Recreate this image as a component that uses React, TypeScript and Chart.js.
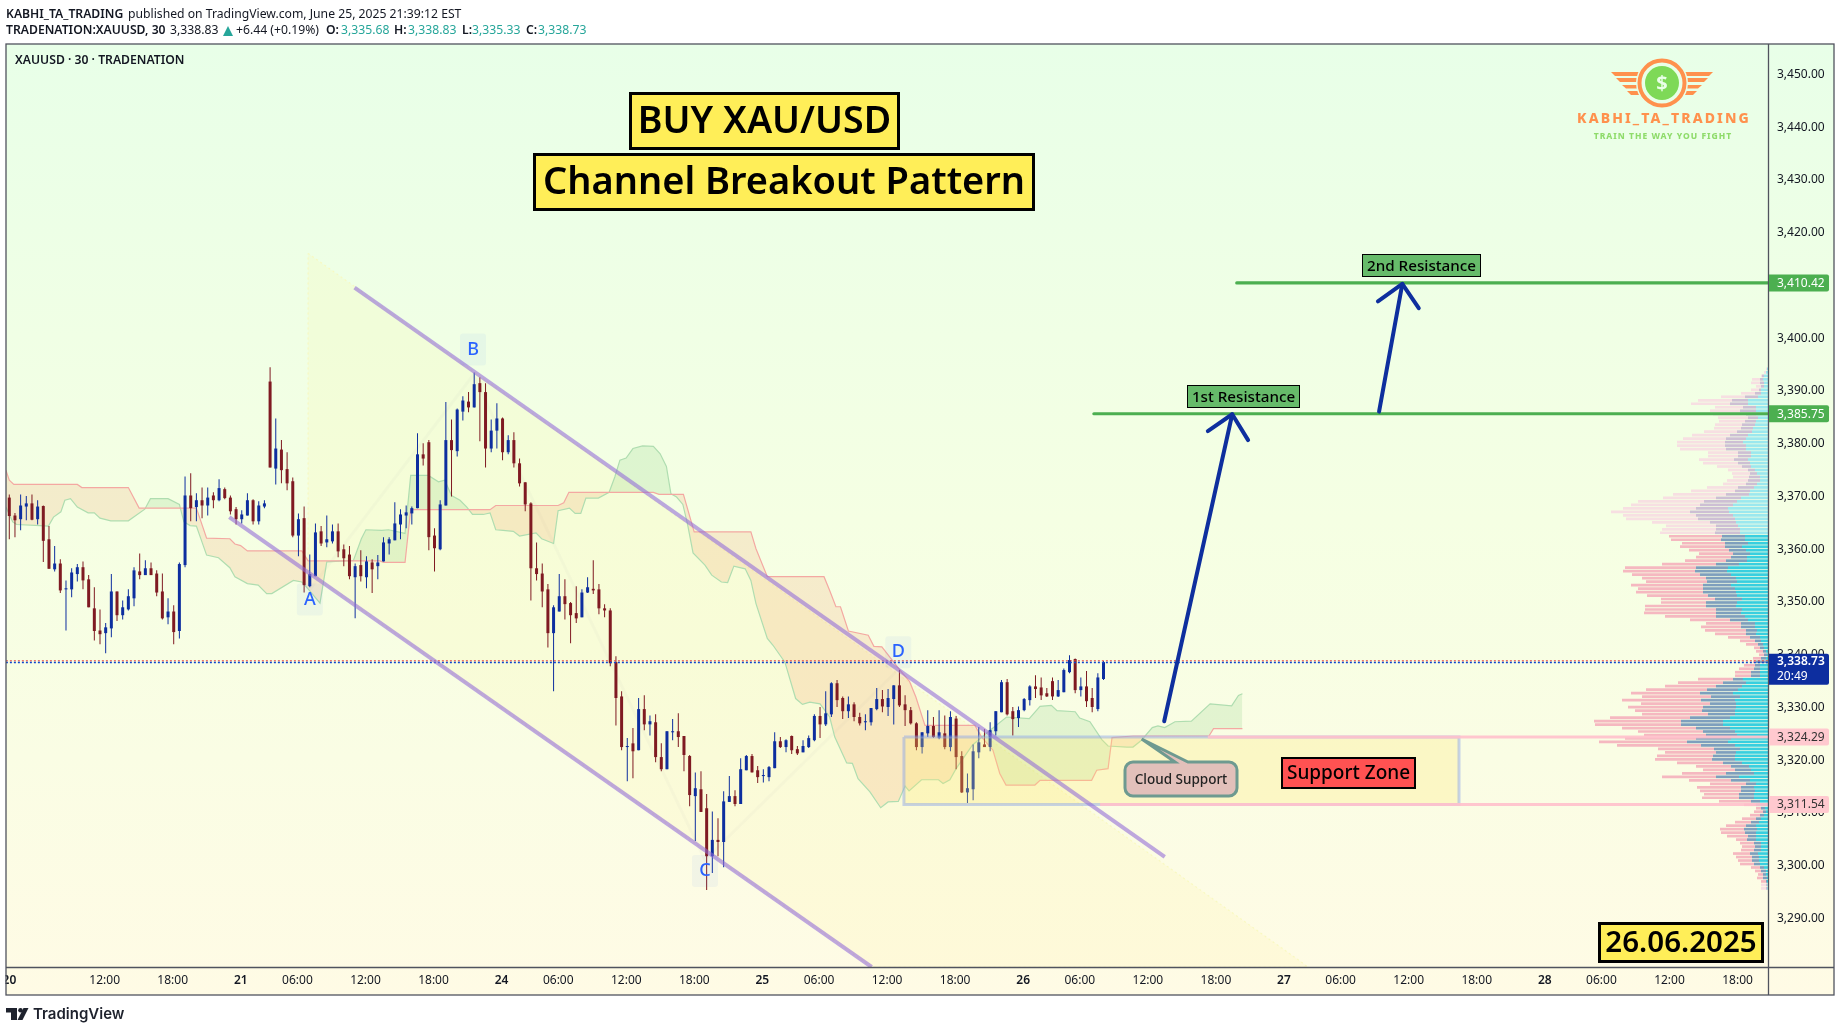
import React, { useEffect, useRef } from "react";
import { Chart, registerables } from "chart.js";

Chart.register(...registerables);

// ---- candles (30 min bars) ----
const opens = [
3369.6,3366.2,3365.5,3367.9,3368.5,3365.5,3368.0,3361.7,3356.0,3357.1,
3352.2,3352.2,3355.1,3356.4,3354.1,3348.6,3344.4,3343.9,3344.8,3351.8,
3347.3,3348.4,3350.5,3355.6,3354.9,3356.2,3355.2,3351.8,3346.9,3348.0,
3344.3,3356.8,3370.0,3367.8,3369.1,3368.1,3370.0,3369.1,3371.2,3369.6,
3367.4,3365.5,3366.2,3369.1,3365.1,3367.9,3391.6,3375.1,3378.7,3375.0,
3372.7,3362.4,3365.7,3352.8,3354.7,3363.2,3361.1,3361.3,3363.2,3359.8,
3358.8,3354.5,3356.8,3354.5,3357.3,3356.6,3357.5,3360.9,3361.5,3364.5,
3366.2,3366.6,3367.6,3377.8,3380.1,3362.4,3359.8,3368.1,3380.5,3378.4,
3385.9,3387.8,3386.7,3391.3,3389.6,3378.9,3382.3,3384.6,3378.2,3380.5,
3376.1,3372.5,3368.5,3356.2,3355.2,3352.2,3343.9,3348.0,3350.9,3349.6,
3347.7,3346.9,3351.6,3352.3,3352.2,3348.6,3348.2,3338.4,3331.9,3322.3,
3323.0,3321.7,3329.5,3326.6,3327.0,3320.4,3318.1,3325.1,3325.3,3324.4,
3320.6,3313.0,3314.3,3310.7,3301.6,3304.7,3304.3,3311.9,3313.0,3311.5,
3317.9,3320.6,3317.9,3316.8,3316.6,3318.3,3323.4,3322.3,3324.4,3321.9,
3321.3,3322.3,3323.6,3328.2,3326.6,3328.5,3334.4,3331.6,3329.1,3330.4,
3328.0,3327.0,3327.0,3329.5,3331.4,3329.9,3331.4,3334.0,3330.4,3329.3,
3326.8,3322.3,3324.9,3326.3,3324.0,3324.9,3322.3,3327.7,3320.6,3313.7,
3314.3,3321.3,3322.8,3322.3,3325.3,3328.9,3334.6,3329.1,3327.8,3329.3,
3331.2,3333.8,3333.6,3332.5,3334.8,3331.9,3332.7,3336.5,3339.0,3333.1,
3333.8,3331.6,3329.5,3335.2];
const highs = [
3370.2,3366.7,3370.2,3369.9,3370.2,3369.1,3368.1,3364.2,3360.4,3357.9,
3353.9,3356.2,3357.0,3357.5,3354.9,3352.6,3348.4,3345.8,3355.1,3351.8,
3350.1,3352.2,3356.4,3359.0,3357.7,3357.3,3355.8,3355.2,3350.5,3349.2,
3357.3,3373.6,3374.2,3370.4,3371.5,3371.5,3370.6,3373.1,3371.5,3370.0,
3367.8,3367.2,3370.4,3369.3,3368.9,3369.1,3394.3,3384.6,3380.5,3378.2,
3373.4,3366.6,3367.9,3358.8,3364.7,3364.2,3366.2,3364.5,3364.7,3360.7,
3360.4,3357.1,3359.6,3358.5,3357.9,3358.7,3362.1,3362.1,3368.7,3367.4,
3368.1,3367.9,3381.8,3379.9,3380.5,3363.8,3369.1,3387.7,3384.4,3386.5,
3388.8,3389.6,3393.3,3392.4,3391.3,3384.4,3387.5,3384.8,3381.4,3382.0,
3377.0,3372.5,3368.7,3361.1,3357.1,3353.2,3349.2,3355.1,3354.1,3349.8,
3352.8,3352.2,3354.5,3357.7,3353.2,3349.4,3348.6,3339.5,3332.9,3324.0,
3325.9,3331.6,3332.1,3328.3,3328.5,3323.0,3325.3,3327.6,3328.7,3324.4,
3320.8,3317.5,3317.7,3313.4,3310.1,3308.8,3313.9,3316.8,3314.1,3320.2,
3320.8,3321.0,3318.7,3318.1,3318.7,3325.1,3324.2,3323.8,3324.5,3322.5,
3323.6,3324.5,3328.5,3329.9,3332.9,3334.6,3335.0,3331.9,3331.9,3330.8,
3328.8,3328.5,3329.7,3333.5,3333.1,3333.3,3334.0,3336.9,3332.1,3329.9,
3327.0,3325.1,3329.3,3328.0,3329.3,3328.3,3329.1,3328.2,3321.5,3317.3,
3322.8,3326.1,3325.7,3327.0,3329.1,3335.0,3335.2,3329.9,3330.0,3331.6,
3334.0,3335.9,3335.5,3333.5,3335.5,3335.0,3337.2,3339.7,3339.1,3335.5,
3336.7,3333.5,3336.3,3338.6];
const lows = [
3361.7,3362.1,3363.4,3365.3,3365.3,3364.5,3357.4,3356.1,3355.6,3351.5,
3344.4,3350.7,3353.7,3352.2,3348.8,3342.5,3341.8,3340.1,3343.1,3346.2,
3346.5,3348.2,3349.0,3354.1,3354.9,3354.9,3350.9,3346.5,3345.6,3341.8,
3342.9,3356.4,3365.1,3365.1,3365.7,3366.2,3367.6,3368.9,3369.3,3366.4,
3364.5,3364.7,3366.2,3364.5,3364.5,3367.6,3375.3,3372.1,3372.3,3371.0,
3362.1,3358.5,3351.6,3352.6,3354.7,3360.4,3360.2,3360.9,3358.3,3356.6,
3354.1,3346.7,3353.7,3352.4,3351.5,3354.1,3357.5,3358.8,3361.5,3361.7,
3363.8,3364.5,3367.6,3375.7,3359.6,3355.6,3359.6,3368.1,3369.8,3377.4,
3384.2,3385.8,3386.7,3380.3,3375.3,3378.2,3378.9,3376.7,3377.8,3375.3,
3371.7,3367.0,3350.1,3353.9,3348.8,3341.2,3332.9,3348.0,3346.5,3342.0,
3345.8,3346.9,3351.5,3351.3,3347.5,3346.9,3337.6,3326.4,3321.7,3315.8,
3316.4,3321.7,3325.5,3324.5,3319.4,3317.7,3318.1,3323.6,3322.3,3317.7,
3311.1,3304.5,3310.0,3295.2,3298.4,3301.6,3299.5,3311.9,3311.1,3311.5,
3317.9,3317.5,3315.5,3315.6,3315.8,3318.3,3322.1,3321.3,3321.0,3320.8,
3321.3,3322.1,3323.4,3324.0,3326.3,3328.0,3329.9,3327.6,3327.8,3327.2,
3326.4,3325.5,3326.4,3329.3,3328.9,3328.2,3326.6,3329.9,3326.3,3326.6,
3321.7,3321.1,3324.2,3324.0,3323.8,3321.9,3321.5,3318.1,3313.6,3311.7,
3312.2,3320.2,3322.3,3321.5,3324.5,3328.9,3328.3,3324.5,3326.1,3329.1,
3330.2,3331.6,3331.2,3331.8,3331.2,3331.8,3332.7,3336.3,3332.5,3331.9,
3329.9,3328.9,3329.1,3335.0];
const closes = [
3366.1,3365.3,3368.1,3368.5,3365.4,3367.9,3361.4,3356.1,3357.1,3352.0,
3352.4,3355.4,3356.4,3353.9,3348.8,3344.3,3343.7,3345.0,3351.8,3347.3,
3348.8,3350.9,3355.8,3354.9,3356.2,3354.9,3351.6,3346.7,3348.0,3344.1,
3357.0,3370.0,3367.6,3369.1,3368.1,3369.6,3369.1,3371.4,3369.5,3367.0,
3365.5,3366.4,3369.1,3365.1,3368.1,3368.5,3375.3,3378.9,3374.8,3372.3,
3362.4,3365.5,3353.0,3355.1,3363.0,3360.9,3361.7,3363.2,3359.4,3358.1,
3354.7,3356.6,3354.7,3357.5,3356.0,3357.3,3361.1,3361.7,3364.7,3366.4,
3366.8,3367.6,3377.8,3377.0,3362.1,3360.0,3368.3,3380.5,3378.6,3386.3,
3388.0,3386.7,3391.1,3389.6,3378.9,3382.3,3384.6,3378.2,3380.5,3376.1,
3372.3,3368.3,3356.2,3355.1,3351.8,3343.9,3348.8,3350.9,3349.4,3347.3,
3346.7,3351.6,3352.6,3352.0,3348.6,3348.2,3338.2,3331.6,3322.3,3322.5,
3321.5,3329.5,3326.6,3327.2,3320.4,3318.1,3325.3,3325.3,3324.2,3320.8,
3313.2,3314.5,3310.0,3301.6,3304.7,3304.3,3312.0,3313.0,3311.5,3318.1,
3320.6,3317.5,3316.6,3317.0,3318.5,3323.4,3322.3,3323.6,3321.7,3321.1,
3322.5,3324.0,3328.2,3326.6,3328.7,3334.4,3331.2,3329.1,3330.4,3328.0,
3326.8,3327.2,3329.7,3331.4,3330.0,3331.6,3334.0,3330.2,3329.3,3326.8,
3322.3,3325.1,3326.3,3324.2,3325.1,3322.3,3328.0,3320.4,3313.7,3314.5,
3321.5,3323.2,3322.3,3325.5,3329.1,3334.6,3328.5,3327.6,3329.3,3331.4,
3333.8,3333.3,3332.1,3331.9,3331.9,3333.1,3336.9,3338.8,3333.1,3333.8,
3331.0,3329.9,3335.5,3338.4];

// ---- Ichimoku cloud vertices [bar, price] ----
const spanA: number[][] = [
[-0.6,3367.8],[0.6,3365],[1.3,3364.5],[5.4,3364.3],[6.9,3364.2],[7.8,3365.9],[9.1,3366.9],[9.8,3369.1],[10.8,3369.4],[12,3367.8],[13.9,3366.7],[15,3366.7],[16,3365.7],[17.9,3365.2],[21,3365.2],[23.9,3367.4],[24.9,3369.4],[28,3369.4],[30,3368.3],[30.8,3365],[31.9,3364.3],[33,3364.2],[34.8,3358.7],[36.9,3358.2],[38.9,3356.3],[39.8,3354.6],[42,3353.3],[43.9,3353],[45.4,3351.4],[46.3,3351.4],[50.1,3353.9],[51.6,3353.6],[52.7,3352.3],[54.8,3349.6],[56,3357.4],[60.7,3357.7],[62.1,3361.8],[62.9,3363.5],[65.7,3363.4],[66.9,3363.5],[69.8,3362.8],[70.8,3373.8],[73.9,3373.8],[75.7,3372.6],[76.8,3372.9],[78,3370],[79.5,3369.1],[80.7,3367.8],[81.7,3366.4],[83.6,3366.4],[84.8,3366.7],[85.8,3363.5],[87.1,3363.4],[88.9,3363.2],[90,3362.3],[92.9,3362.9],[93.9,3361.8],[96,3360.9],[96.8,3367.1],[98.8,3367.6],[99.8,3366.6],[100.8,3366.6],[101.7,3369.5],[103.9,3369.5],[105.8,3370.6],[106.8,3373.5],[107.7,3376.7],[108.8,3377.1],[110,3378.9],[111.7,3379.4],[113.6,3379.3],[114.8,3377.9],[115.9,3375.5],[116.7,3370.3],[117.7,3369.7],[118.8,3368.3],[119.6,3364.7],[120.6,3359.1],[122.7,3356.8],[123.9,3354.9],[125.6,3353.6],[126.7,3353.5],[127.8,3356.6],[129.8,3356.1],[130.8,3353.9],[131.7,3349.5],[133.7,3342.9],[134.7,3341.6],[136.8,3338.4],[138.7,3331.5],[139.9,3330.4],[141.2,3330.8],[143,3330.5],[144.7,3328],[145.6,3324.2],[147.7,3319.3],[148.7,3319.2],[149.7,3316.3],[151.8,3313.8],[153.7,3310.8],[155,3311.9],[156.8,3312],[158,3314.9],[158.7,3314],[160.9,3316.1],[163.9,3316.1],[164.7,3315.4],[165.9,3316.1],[167,3318.2],[169.9,3322.7],[173,3325.5],[175.9,3328],[179.9,3327.7],[181.8,3330],[183.8,3330.2],[184.8,3329.2],[188,3329],[188.8,3327.8],[190.6,3327.1],[192.7,3323.7],[193.8,3322.5],[197.1,3322.3],[198.2,3322.3],[199.7,3323.6],[201.6,3326],[202.6,3326.3],[203.8,3326],[205.6,3327.1],[208.5,3327.2],[211.8,3330.5],[215.6,3330.1],[216.8,3332.1],[217.5,3332.4]];
const spanB: number[][] = [
[-0.6,3374.8],[0,3372.9],[0.8,3372.1],[12,3372.1],[12.8,3371.5],[21,3371.5],[22.9,3367.6],[33,3367.6],[34.8,3361.9],[38.9,3361.8],[39.8,3360.8],[40.8,3360.5],[42,3359.5],[51.6,3359.5],[52.7,3357.6],[65.4,3357.6],[66,3357.3],[69.8,3357.3],[70.8,3367.3],[84.8,3367.3],[85.8,3368.1],[96.8,3368.1],[97.8,3368.6],[98.7,3370.6],[113.6,3370.6],[114.6,3370.2],[118.9,3370.2],[120.8,3363.1],[130.8,3363.1],[131.7,3359.9],[133.7,3354.6],[143.7,3354.6],[144.7,3352],[145.8,3348.9],[146.6,3348.9],[148,3344.3],[151.5,3343.5],[152.5,3341.4],[153.9,3341.3],[157.1,3336.9],[158.8,3334.7],[159.9,3331.8],[161.5,3326.4],[170.3,3326.4],[171.5,3324.2],[173.5,3321.7],[174.7,3317.3],[175.8,3315.1],[180.9,3315.1],[181.8,3316],[190.9,3316],[191.8,3317.9],[193.8,3318.2],[194.5,3324.1],[198.2,3324.4],[211.6,3324.4],[212.4,3325.8],[217.5,3325.8]];

// ---- volume profile rows, top to bottom ----
const vpTopPrice = 3394.0;
const vpBottomPrice = 3295.5;
const vpValueAreaTop = 3362.3;
const vpValueAreaBottom = 3296.8;
const vpUp = [1,2,4,5,4,4,7,7,10,20,20,12,12,12,10,12,13,15,16,20,22,25,22,22,17,17,20,18,17,13,11,8,8,11,14,18,19,27,31,35,40,39,35,33,32,30,28,28,23,23,20,26,22,18,21,21,29,40,41,37,32,31,37,33,32,31,26,31,32,26,27,23,20,13,13,11,12,8,7,5,4,2,1,2,2,8,8,8,8,25,22,26,30,35,28,33,32,32,33,33,38,45,45,38,33,31,37,40,33,28,32,33,33,26,19,17,14,29,18,12,14,13,14,14,8,4,3,2,4,7,9,12,11,12,12,12,7,7,7,10,9,9,8,4,2,2,1,1,1,1];
const vpMid = [1,2,6,8,8,7,9,13,23,36,38,25,28,22,20,23,26,27,31,38,42,43,43,42,30,30,34,30,26,20,18,19,20,22,30,33,42,52,64,68,72,78,72,70,58,52,52,53,46,47,43,43,39,35,37,42,52,72,73,68,62,61,65,65,65,60,53,62,62,52,52,52,38,27,27,22,22,18,13,10,8,5,4,7,12,13,14,17,17,35,45,52,61,68,57,67,58,65,66,60,78,87,87,72,65,62,72,81,67,54,52,55,56,45,37,33,42,52,37,22,27,27,29,29,17,12,7,5,8,12,17,22,24,23,20,21,14,13,14,18,16,16,14,8,7,5,5,2,2,2];
const vpPink = [2,4,7,16,17,12,17,27,47,70,77,53,58,55,50,49,53,54,64,76,85,91,91,88,60,60,69,65,51,40,36,35,41,45,61,77,95,105,130,137,145,157,145,142,116,102,106,108,99,97,86,88,79,69,72,83,106,143,145,136,126,122,137,130,132,121,107,107,123,123,124,103,78,62,67,63,53,40,28,22,14,12,9,15,15,24,29,33,33,70,90,103,122,137,126,146,127,140,133,126,158,174,173,146,130,124,143,169,151,110,103,111,113,91,72,65,86,106,79,58,71,68,64,66,49,24,12,14,18,26,33,42,48,47,41,32,28,26,27,35,32,30,28,17,13,10,11,7,7,7];

// ---- axes ----
const xTickPositions = [0.2,17,29,41,51,63,75,87,97,109,121,133,143,155,167,179,189,201,213,225,235,247,259,271,281,293,305];
const xTickLabels = ["20","12:00","18:00","21","06:00","12:00","18:00","24","06:00","12:00","18:00","25","06:00","12:00","18:00","26","06:00","12:00","18:00","27","06:00","12:00","18:00","28","06:00","12:00","18:00"];
const xDayLabels = ["20","21","24","25","26","27","28"];
const yTickValues = [3450,3440,3430,3420,3410,3400,3390,3380,3370,3360,3350,3340,3330,3320,3310,3300,3290];

// ---- drawing tools, in [bar, price] ----
const channelUpper = [[60.9,3409.4],[203.8,3301.5]];
const channelLower = [[38.8,3365.9],[152.1,3280.6]];
const channelArea = [[52.7,3415.9],[228.2,3281.3],[229,3280.6],[152.1,3280.6],[52.7,3355.4],[52.7,3415.9]];
const abcdPath = [[52.9,3352],[81.8,3392.8],[122.7,3300.9],[156.7,3336.9]];
const supportBox = [[157.8,3324.2],[255.7,3324.2],[255.7,3311.4],[157.8,3311.4],[157.8,3324.2]];
const arrow1Shaft = [[203.7,3327.2],[215.7,3385.4]];
const arrow1Head = [[211.4,3382.2],[215.7,3385.4],[218.5,3380.5]];
const arrow2Shaft = [[241.6,3385.9],[245.7,3410.1]];
const arrow2Head = [[241.4,3406.8],[245.7,3410.1],[248.6,3405.5]];
const resistance1 = [[191.3,3385.5],[310.2,3385.5]];
const resistance2 = [[216.5,3410.3],[310.2,3410.3]];
const supportTop = [[211.4,3324.2],[310.2,3324.2]];
const supportBottom = [[192.4,3311.4],[310.2,3311.4]];
const lastPriceRed = [[-0.6,3338.65],[310.2,3338.65]];
const lastPriceBlue = [[-0.6,3338.33],[310.2,3338.33]];
const patternLabels = ["A","B","C","D"];
const patternLabelBars = [53,81.8,122.7,156.8];
const patternLabelPrices = [3350.3,3397.7,3298.8,3340.3];
const badgeTexts = ["3,410.42","3,385.75","3,324.29","3,311.54"];
const badgePrices = [3410.3,3385.5,3324.2,3311.4];
const badgeColors = ["#4CAF50","#4CAF50","#FFC9CF","#FFC9CF"];
const badgeTextColors = ["#ffffff","#ffffff","#333333","#333333"];

const FONT = '"Noto Sans", sans-serif';
const RED = "#7F1A22";
const BLUE = "#0D2E9F";

const pts = (a: number[][]) => a.map(([x, y]) => ({ x, y }));
const line = (data: number[][], extra: any) => ({
  type: "line",
  data: pts(data),
  pointRadius: 0,
  tension: 0,
  fill: false,
  ...extra,
});

function labelBox(ctx: any, x: number, y: number, w: number, h: number, fill: string, bw: number, text: string, font: string) {
  ctx.fillStyle = "#000";
  ctx.fillRect(x, y, w, h);
  ctx.fillStyle = fill;
  ctx.fillRect(x + bw, y + bw, w - 2 * bw, h - 2 * bw);
  ctx.fillStyle = "#000";
  ctx.font = font;
  ctx.textAlign = "center";
  ctx.textBaseline = "middle";
  ctx.fillText(text, x + w / 2, y + h / 2 + 1);
}

function headerPieces(ctx: any) {
  ctx.textBaseline = "middle";
  ctx.textAlign = "left";
  const dark = "#131722";
  const teal = "#26A69A";
  const put = (t: string, x: number, y: number, bold: boolean, c: string) => {
    ctx.font = `${bold ? "600" : "400"} 12.2px ${FONT}`;
    ctx.fillStyle = c;
    ctx.fillText(t, x, y);
  };
  put("KABHI_TA_TRADING", 6, 14.5, true, dark);
  put("published on TradingView.com, June 25, 2025 21:39:12 EST", 128, 14.5, false, dark);
  put("TRADENATION:XAUUSD, 30", 6, 31, true, dark);
  put("3,338.83", 170, 31, false, dark);
  ctx.fillStyle = teal;
  ctx.beginPath();
  ctx.moveTo(228, 26);
  ctx.lineTo(233, 36);
  ctx.lineTo(223, 36);
  ctx.closePath();
  ctx.fill();
  put("+6.44 (+0.19%)", 236, 31, false, dark);
  put("O:", 326, 31, true, dark);
  put("3,335.68", 341, 31, false, teal);
  put("H:", 394, 31, true, dark);
  put("3,338.83", 408, 31, false, teal);
  put("L:", 462, 31, true, dark);
  put("3,335.33", 472, 31, false, teal);
  put("C:", 526, 31, true, dark);
  put("3,338.73", 538, 31, false, teal);
  put("XAUUSD · 30 · TRADENATION", 15, 61, true, dark);
}

function logo(ctx: any) {
  const cx = 1662;
  const cy = 83;
  const orange = "#FF914D";
  ctx.fillStyle = orange;
  const stripes = [[72, 76, 51, 20], [78, 82, 46, 20], [85, 88.5, 40, 20], [91, 95, 35, 20]];
  for (const [y1, y2, outer, inner] of stripes) {
    for (const s of [-1, 1]) {
      ctx.beginPath();
      ctx.moveTo(cx + s * outer, y1);
      ctx.lineTo(cx + s * inner, y1);
      ctx.lineTo(cx + s * inner, y2);
      ctx.lineTo(cx + s * (outer - 4), y2);
      ctx.closePath();
      ctx.fill();
    }
  }
  ctx.beginPath();
  ctx.arc(cx, cy, 26, 0, Math.PI * 2);
  ctx.fillStyle = "#E9FFE8";
  ctx.fill();
  ctx.beginPath();
  ctx.arc(cx, cy, 22.5, 0, Math.PI * 2);
  ctx.strokeStyle = orange;
  ctx.lineWidth = 4;
  ctx.stroke();
  ctx.beginPath();
  ctx.arc(cx, cy, 17, 0, Math.PI * 2);
  ctx.fillStyle = "#7ED957";
  ctx.fill();
  ctx.fillStyle = "#E9FFE8";
  ctx.font = `700 20px ${FONT}`;
  ctx.textAlign = "center";
  ctx.textBaseline = "middle";
  ctx.fillText("$", cx, cy + 1);
  ctx.fillStyle = orange;
  ctx.font = `800 14px ${FONT}`;
  (ctx as any).letterSpacing = "2.1px";
  ctx.fillText("KABHI_TA_TRADING", 1664, 119);
  ctx.fillStyle = "#8FDC6B";
  ctx.font = `800 8.5px ${FONT}`;
  (ctx as any).letterSpacing = "1px";
  ctx.fillText("TRAIN THE WAY YOU FIGHT", 1663, 137);
  (ctx as any).letterSpacing = "0px";
}

function cloudSupport(ctx: any) {
  const x = 1125, y = 762, w = 112, h = 34, r = 8;
  ctx.beginPath();
  ctx.moveTo(x + r, y);
  ctx.lineTo(1175, y);
  ctx.lineTo(1141.7, 739);
  ctx.lineTo(1188, y);
  ctx.lineTo(x + w - r, y);
  ctx.arcTo(x + w, y, x + w, y + r, r);
  ctx.lineTo(x + w, y + h - r);
  ctx.arcTo(x + w, y + h, x + w - r, y + h, r);
  ctx.lineTo(x + r, y + h);
  ctx.arcTo(x, y + h, x, y + h - r, r);
  ctx.lineTo(x, y + r);
  ctx.arcTo(x, y, x + r, y, r);
  ctx.closePath();
  ctx.fillStyle = "#E2C0BA";
  ctx.fill();
  ctx.strokeStyle = "#6E9A90";
  ctx.lineWidth = 3;
  ctx.stroke();
  ctx.fillStyle = "#222";
  ctx.font = `500 13.5px ${FONT}`;
  ctx.textAlign = "center";
  ctx.textBaseline = "middle";
  ctx.fillText("Cloud Support", x + w / 2, y + h / 2 + 1);
}

function tvLogo(ctx: any) {
  ctx.fillStyle = "#1E222D";
  ctx.fillRect(6, 1008, 11, 4.5);
  ctx.fillRect(11, 1008, 6, 12);
  ctx.beginPath();
  ctx.arc(20.5, 1010.3, 2.3, 0, Math.PI * 2);
  ctx.fill();
  ctx.beginPath();
  ctx.moveTo(23.5, 1008);
  ctx.lineTo(28.5, 1008);
  ctx.lineTo(22.5, 1020);
  ctx.lineTo(17.5, 1020);
  ctx.closePath();
  ctx.fill();
  ctx.font = `600 15px Inter, ${FONT}`;
  ctx.textAlign = "left";
  ctx.textBaseline = "middle";
  ctx.fillText("TradingView", 33, 1014);
}

const paint = {
  id: "paint",
  afterLayout(chart: any) {
    // pin the plot to the frame of the reference
    const L = 6, R = 1768, T = 44, B = 967;
    const { x, y, xv } = chart.scales;
    for (const s of [x, xv]) {
      s.left = L; s.right = R; s.width = R - L;
      s.top = B; s.bottom = 995; s.height = 28;
    }
    y.left = R; y.right = 1834; y.width = 66;
    y.top = T; y.bottom = B; y.height = B - T;
    chart.chartArea = { left: L, top: T, right: R, bottom: B, width: R - L, height: B - T };
    x.configure(); xv.configure(); y.configure();
  },
  beforeDraw(chart: any) {
    const ctx = chart.ctx;
    ctx.save();
    ctx.fillStyle = "#ffffff";
    ctx.fillRect(0, 0, chart.width, chart.height);
    const g = ctx.createLinearGradient(0, 44, 0, 995);
    g.addColorStop(0, "#E8FFE8");
    g.addColorStop(0.5, "#F5FFE3");
    g.addColorStop(1, "#FFFBE5");
    ctx.fillStyle = g;
    ctx.fillRect(6, 44, 1828, 951);
    ctx.restore();
  },
  afterDatasetsDraw(chart: any) {
    const ctx = chart.ctx;
    const xs = chart.scales.x;
    const ys = chart.scales.y;
    ctx.save();
    patternLabels.forEach((t, i) => {
      const px = xs.getPixelForValue(patternLabelBars[i]);
      const py = ys.getPixelForValue(patternLabelPrices[i]);
      ctx.fillStyle = "rgba(41,98,255,0.05)";
      ctx.beginPath();
      ctx.roundRect(px - 13, py - 16, 26, 32, 3);
      ctx.fill();
      ctx.fillStyle = "#2962FF";
      ctx.font = `500 18px ${FONT}`;
      ctx.textAlign = "center";
      ctx.textBaseline = "middle";
      ctx.fillText(t, px, py);
    });
    labelBox(ctx, 629, 92, 271, 58, "#FFEE58", 3, "BUY XAU/USD", `600 37.5px ${FONT}`);
    labelBox(ctx, 533, 153, 502, 58, "#FFEE58", 3, "Channel Breakout Pattern", `600 38px ${FONT}`);
    labelBox(ctx, 1187, 385, 113, 23, "#66BB6A", 1, "1st Resistance", `500 15.2px ${FONT}`);
    labelBox(ctx, 1362, 254, 119, 23, "#66BB6A", 1, "2nd Resistance", `500 15.2px ${FONT}`);
    labelBox(ctx, 1281, 757, 135, 32, "#FF5252", 2, "Support Zone", `500 19px ${FONT}`);
    labelBox(ctx, 1598, 922, 166, 41, "#FFEE58", 3, "26.06.2025", `600 29.5px ${FONT}`);
    cloudSupport(ctx);
    logo(ctx);
    ctx.restore();
  },
  afterDraw(chart: any) {
    const ctx = chart.ctx;
    const ys = chart.scales.y;
    ctx.save();
    ctx.fillStyle = "#ffffff";
    ctx.fillRect(0, 44, 5.5, 960);
    ctx.strokeStyle = "#50535E";
    ctx.lineWidth = 1.3;
    ctx.strokeRect(6, 44, 1828, 951);
    ctx.beginPath();
    ctx.moveTo(1768.5, 44);
    ctx.lineTo(1768.5, 995);
    ctx.moveTo(6, 967.5);
    ctx.lineTo(1834, 967.5);
    ctx.stroke();
    badgeTexts.forEach((t, i) => {
      const py = ys.getPixelForValue(badgePrices[i]);
      ctx.fillStyle = badgeColors[i];
      ctx.beginPath();
      ctx.roundRect(1769, py - 8.5, 60, 17, [0, 2, 2, 0]);
      ctx.fill();
      ctx.fillStyle = badgeTextColors[i];
      ctx.font = `400 12px ${FONT}`;
      ctx.textAlign = "left";
      ctx.textBaseline = "middle";
      ctx.fillText(t, 1777, py + 0.5);
    });
    const py = ys.getPixelForValue(3338.65);
    ctx.fillStyle = BLUE;
    ctx.beginPath();
    ctx.roundRect(1769, py - 7, 60, 31, [0, 2, 2, 0]);
    ctx.fill();
    ctx.fillStyle = "#fff";
    ctx.font = `600 12px ${FONT}`;
    ctx.textAlign = "left";
    ctx.textBaseline = "middle";
    ctx.fillText("3,338.73", 1777, py + 1);
    ctx.font = `400 12px ${FONT}`;
    ctx.fillText("20:49", 1777, py + 16);
    headerPieces(ctx);
    tvLogo(ctx);
    ctx.restore();
  },
};

export default function App() {
  const ref = useRef<HTMLCanvasElement | null>(null);
  useEffect(() => {
    document.body.style.margin = "0";
    document.body.style.overflow = "hidden";
    const bars = opens.map((_, i) => i);
    const vpStep = (vpTopPrice - vpBottomPrice) / (vpUp.length - 1);
    const vpPrices = vpUp.map((_, r) => vpTopPrice - r * vpStep);
    const inVA = (r: number) => vpPrices[r] <= vpValueAreaTop && vpPrices[r] >= vpValueAreaBottom;
    const vp = (from: number[] | null, to: number[], strong: string, light: string) => ({
      type: "bar",
      indexAxis: "y",
      xAxisID: "xv",
      yAxisID: "y",
      grouped: false,
      barThickness: 2.7,
      inflateAmount: 0,
      borderWidth: 0,
      order: 35,
      data: to.map((v, r) => ({ y: vpPrices[r], x: [from ? from[r] : 0, v] })),
      backgroundColor: to.map((_, r) => (inVA(r) ? strong : light)),
    });
    const candleColors = bars.map((i) => (closes[i] >= opens[i] ? BLUE : RED));
    const chart = new Chart(ref.current as any, {
      type: "bar",
      plugins: [paint as any],
      data: {
        datasets: [
          line(channelArea, { fill: "shape", backgroundColor: "rgba(255,238,130,0.12)", borderColor: "rgba(248,248,190,0.9)", borderWidth: 1.2, borderDash: [2, 3], order: 60 }),
          line(abcdPath, { borderColor: "rgba(190,190,190,0.07)", borderWidth: 3, order: 55 }),
          line(spanA, { borderColor: "#AFDDB0", borderWidth: 1.2, fill: { target: "+1", above: "rgba(76,175,80,0.13)", below: "rgba(244,130,70,0.15)" }, order: 50 }),
          line(spanB, { borderColor: "#F4A8A2", borderWidth: 1.2, order: 49 }),
          vp(vpPink.map((_, r) => vpMid[r]), vpPink, "#F5B8C0", "#F7DFE2"),
          vp(vpUp, vpMid, "#7E9FBD", "#CDBFD4"),
          vp(null, vpUp, "#38CFDF", "#9BE8EE"),
          {
            type: "bar", grouped: false, barThickness: 1, inflateAmount: 0, borderWidth: 0, order: 30,
            data: bars.map((i) => ({ x: i, y: [lows[i], highs[i]] })),
            backgroundColor: candleColors,
          },
          {
            type: "bar", grouped: false, barThickness: 3, inflateAmount: 0, borderWidth: 0, minBarLength: 1, order: 29,
            data: bars.map((i) => ({ x: i, y: [opens[i], closes[i]] })),
            backgroundColor: candleColors,
          },
          line(supportBox, { fill: "shape", backgroundColor: "rgba(255,232,110,0.26)", borderColor: "rgba(140,165,235,0.48)", borderWidth: 3, order: 20 }),
          line(lastPriceRed, { borderColor: "#E53935", borderWidth: 1, borderDash: [2, 2], order: 18 }),
          line(lastPriceBlue, { borderColor: "#0D47D1", borderWidth: 1.3, borderDash: [2, 2], order: 17 }),
          line(channelUpper, { borderColor: "rgba(145,105,215,0.58)", borderWidth: 4, order: 16 }),
          line(channelLower, { borderColor: "rgba(145,105,215,0.58)", borderWidth: 4, order: 15 }),
          line(supportTop, { borderColor: "rgba(255,192,203,0.9)", borderWidth: 3, order: 14 }),
          line(supportBottom, { borderColor: "rgba(255,192,203,0.9)", borderWidth: 3, order: 13 }),
          line(resistance1, { borderColor: "#4CAF50", borderWidth: 3.2, borderCapStyle: "round", order: 12 }),
          line(resistance2, { borderColor: "#4CAF50", borderWidth: 3.2, borderCapStyle: "round", order: 11 }),
          line(arrow1Shaft, { borderColor: "#0E2F9E", borderWidth: 4, borderCapStyle: "round", order: 10 }),
          line(arrow1Head, { borderColor: "#0E2F9E", borderWidth: 4, borderCapStyle: "round", borderJoinStyle: "round", order: 9 }),
          line(arrow2Shaft, { borderColor: "#0E2F9E", borderWidth: 4, borderCapStyle: "round", order: 8 }),
          line(arrow2Head, { borderColor: "#0E2F9E", borderWidth: 4, borderCapStyle: "round", borderJoinStyle: "round", order: 7 }),
        ] as any,
      },
      options: {
        responsive: false,
        animation: false,
        devicePixelRatio: 1,
        layout: { padding: { left: 6, top: 44, right: 7, bottom: 37 } },
        plugins: { legend: { display: false }, tooltip: { enabled: false } },
        events: [],
        scales: {
          x: {
            type: "linear",
            offset: false,
            min: -0.58,
            max: 310.2,
            grid: { display: false, drawTicks: false },
            border: { display: false },
            afterBuildTicks: (ax: any) => { ax.ticks = xTickPositions.map((value) => ({ value })); },
            ticks: {
              autoSkip: false,
              maxRotation: 0,
              padding: 6,
              labelOffset: -1,
              color: "#131722",
              font: (c: any) => {
                const label = xTickLabels[xTickPositions.indexOf(c.tick?.value)];
                const day = xDayLabels.includes(label);
                return { family: '"Noto Sans", sans-serif', size: 12, weight: day ? "600" : "400" };
              },
              callback: (v: any) => xTickLabels[xTickPositions.indexOf(v)],
            },
          },
          xv: {
            type: "linear",
            display: false,
            offset: false,
            reverse: true,
            min: 0,
            max: 1762,
            grid: { display: false },
          },
          y: {
            type: "linear",
            position: "right",
            offset: false,
            beginAtZero: false,
            min: 3280.6,
            max: 3455.6,
            grid: { display: false, offset: false, drawTicks: false },
            border: { display: false },
            afterBuildTicks: (ax: any) => { ax.ticks = yTickValues.map((value) => ({ value })); },
            ticks: {
              autoSkip: false,
              padding: 9,
              labelOffset: 1,
              color: "#131722",
              font: { family: '"Noto Sans", sans-serif', size: 12 },
              callback: (v: any) => v.toLocaleString("en-US", { minimumFractionDigits: 2, maximumFractionDigits: 2 }),
            },
          },
        },
      } as any,
    });
    return () => chart.destroy();
  }, []);
  return (
    <div style={{ position: "absolute", left: 0, top: 0, width: 1841, height: 1032, overflow: "hidden", background: "#fff" }}>
      <canvas ref={ref} width={1841} height={1032} style={{ display: "block" }} />
    </div>
  );
}
